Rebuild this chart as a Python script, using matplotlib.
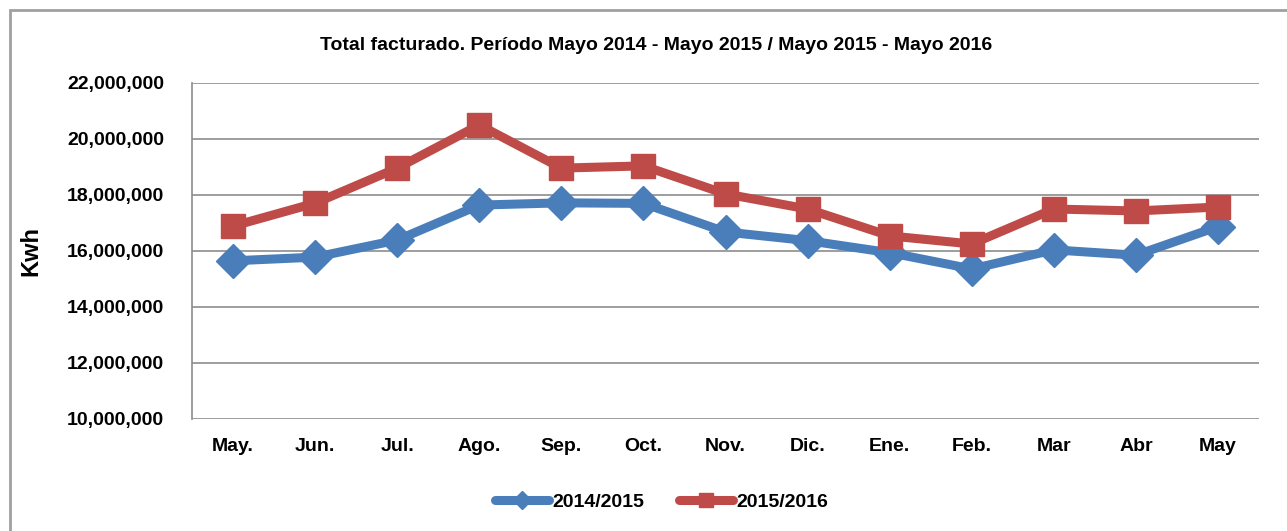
import matplotlib.pyplot as plt
import matplotlib.patches as mpatches
from matplotlib.ticker import FuncFormatter
from matplotlib.lines import Line2D

# Data
months = ["May.", "Jun.", "Jul.", "Ago.", "Sep.", "Oct.", "Nov.", "Dic.",
          "Ene.", "Feb.", "Mar", "Abr", "May"]
kwh_2014_2015 = [15.65e6, 15.78e6, 16.39e6, 17.64e6, 17.72e6, 17.70e6, 16.68e6,
                 16.37e6, 15.94e6, 15.36e6, 16.04e6, 15.85e6, 16.87e6]
kwh_2015_2016 = [16.89e6, 17.71e6, 18.96e6, 20.50e6, 18.96e6, 19.04e6, 18.04e6,
                 17.50e6, 16.54e6, 16.25e6, 17.50e6, 17.43e6, 17.57e6]
series_labels = ["2014/2015", "2015/2016"]
yticks = [10e6, 12e6, 14e6, 16e6, 18e6, 20e6, 22e6]

plt.rcParams["font.family"] = ["Liberation Sans Narrow", "Liberation Sans", "DejaVu Sans"]

blue = "#4A7EBB"
red = "#BE4B48"

fig = plt.figure(figsize=(12.87, 5.31), dpi=100)
fig.patch.set_facecolor("white")

# outer chart frame (Excel style)
fig.patches.append(mpatches.Rectangle((10 / 1287, -0.05), 1.1, 1 - 10 / 531 + 0.05,
                                      transform=fig.transFigure, fill=False,
                                      edgecolor="#a0a0a0", linewidth=2))

ax = fig.add_axes([192 / 1287, 1 - 419 / 531, (1259 - 192) / 1287, (419 - 83) / 531])

x = list(range(len(months)))
ax.plot(x, kwh_2014_2015, color=blue, linewidth=6.5, marker="D", markersize=17,
        markerfacecolor=blue, markeredgecolor=blue, solid_joinstyle="round",
        solid_capstyle="round", zorder=3)
ax.plot(x, kwh_2015_2016, color=red, linewidth=6.5, marker="s", markersize=17,
        markerfacecolor=red, markeredgecolor=red, solid_joinstyle="round",
        solid_capstyle="round", zorder=3)

ax.set_xlim(-0.5, len(months) - 0.5)
ax.set_ylim(10e6, 22e6)
ax.set_yticks(yticks)
ax.yaxis.set_major_formatter(FuncFormatter(lambda v, p: f"{v:,.0f}"))
ax.set_xticks(x)
ax.set_xticklabels(months)

ax.yaxis.grid(True, color="#8c8c8c", linewidth=1.2)
ax.set_axisbelow(True)
for s in ["top", "right", "bottom"]:
    ax.spines[s].set_visible(False)
ax.spines["left"].set_color("#8c8c8c")
ax.spines["left"].set_linewidth(1.2)

ax.tick_params(axis="y", length=0, pad=20)
ax.tick_params(axis="x", length=0, pad=14)
for lab in ax.get_xticklabels() + ax.get_yticklabels():
    lab.set_fontsize(14)
    lab.set_fontweight("bold")

ax.set_ylabel("Kwh", fontsize=17, fontweight="bold", labelpad=18)

fig.text(656 / 1287, 1 - 45 / 531, "Total facturado. Período Mayo 2014 - Mayo 2015 / Mayo 2015 - Mayo 2016",
         ha="center", va="center", fontsize=14, fontweight="bold")

handles = [
    Line2D([0], [0], color=blue, linewidth=6.5, marker="D", markersize=9,
           solid_capstyle="round"),
    Line2D([0], [0], color=red, linewidth=6.5, marker="s", markersize=10,
           solid_capstyle="round"),
]
fig.legend(handles, series_labels, loc="center", bbox_to_anchor=(0.514, 1 - 502 / 531),
           ncol=2, frameon=False, handlelength=2.8, handletextpad=0.15,
           columnspacing=1.8, prop={"weight": "bold", "size": 14})

plt.savefig("out.png", dpi=100)
